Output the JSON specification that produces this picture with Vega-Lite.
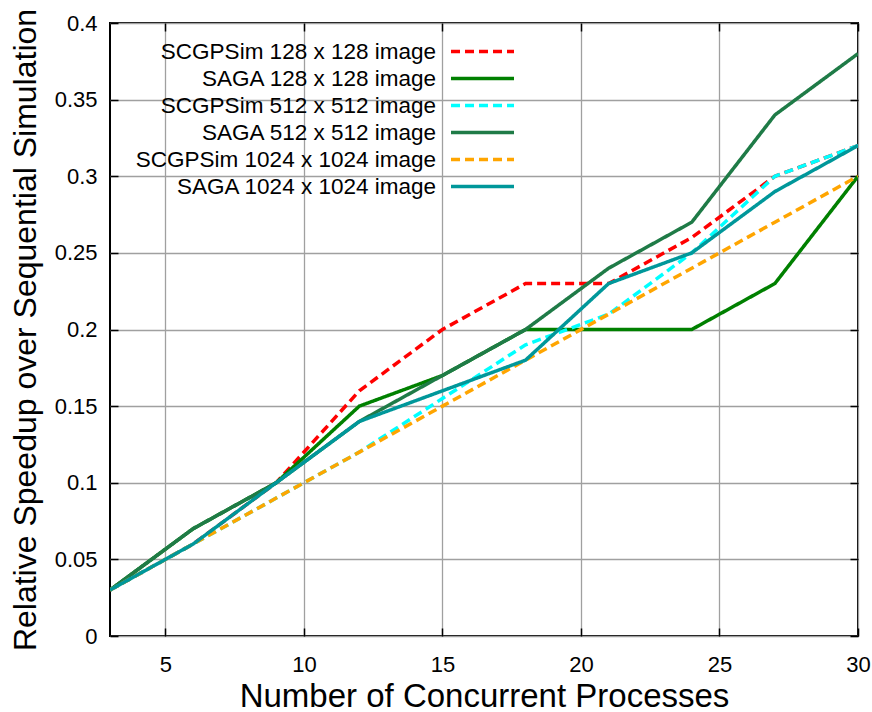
{
  "$schema": "https://vega.github.io/schema/vega-lite/v6.json",
  "autosize": "none",
  "padding": {"left": 110, "top": 23, "right": 14, "bottom": 76},
  "width": 748,
  "height": 613,
  "background": "white",
  "config": {
    "font": "Liberation Sans",
    "view": {"stroke": "black", "strokeWidth": 2},
    "axis": {
      "labelFont": "Liberation Sans",
      "titleFont": "Liberation Sans",
      "labelFontSize": 22,
      "titleFontSize": 32,
      "labelColor": "black",
      "titleColor": "black",
      "titleFontWeight": "normal",
      "domain": false,
      "gridColor": "#a0a0a0",
      "gridWidth": 1.3,
      "gridOpacity": 1,
      "tickColor": "black",
      "tickWidth": 1.5
    }
  },
  "data": {
    "values": [
      {"series": "SCGPSim 128 x 128 image", "x": 3, "y": 0.03},
      {"series": "SCGPSim 128 x 128 image", "x": 6, "y": 0.06},
      {"series": "SCGPSim 128 x 128 image", "x": 9, "y": 0.1},
      {"series": "SCGPSim 128 x 128 image", "x": 12, "y": 0.16},
      {"series": "SCGPSim 128 x 128 image", "x": 15, "y": 0.2},
      {"series": "SCGPSim 128 x 128 image", "x": 18, "y": 0.23},
      {"series": "SCGPSim 128 x 128 image", "x": 21, "y": 0.23},
      {"series": "SCGPSim 128 x 128 image", "x": 24, "y": 0.26},
      {"series": "SCGPSim 128 x 128 image", "x": 27, "y": 0.3},
      {"series": "SCGPSim 128 x 128 image", "x": 30, "y": 0.32},
      {"series": "SAGA 128 x 128 image", "x": 3, "y": 0.03},
      {"series": "SAGA 128 x 128 image", "x": 6, "y": 0.07},
      {"series": "SAGA 128 x 128 image", "x": 9, "y": 0.1},
      {"series": "SAGA 128 x 128 image", "x": 12, "y": 0.15},
      {"series": "SAGA 128 x 128 image", "x": 15, "y": 0.17},
      {"series": "SAGA 128 x 128 image", "x": 18, "y": 0.2},
      {"series": "SAGA 128 x 128 image", "x": 21, "y": 0.2},
      {"series": "SAGA 128 x 128 image", "x": 24, "y": 0.2},
      {"series": "SAGA 128 x 128 image", "x": 27, "y": 0.23},
      {"series": "SAGA 128 x 128 image", "x": 30, "y": 0.3},
      {"series": "SCGPSim 512 x 512 image", "x": 3, "y": 0.03},
      {"series": "SCGPSim 512 x 512 image", "x": 6, "y": 0.06},
      {"series": "SCGPSim 512 x 512 image", "x": 9, "y": 0.09},
      {"series": "SCGPSim 512 x 512 image", "x": 12, "y": 0.12},
      {"series": "SCGPSim 512 x 512 image", "x": 15, "y": 0.155},
      {"series": "SCGPSim 512 x 512 image", "x": 18, "y": 0.19},
      {"series": "SCGPSim 512 x 512 image", "x": 21, "y": 0.21},
      {"series": "SCGPSim 512 x 512 image", "x": 24, "y": 0.25},
      {"series": "SCGPSim 512 x 512 image", "x": 27, "y": 0.3},
      {"series": "SCGPSim 512 x 512 image", "x": 30, "y": 0.32},
      {"series": "SAGA 512 x 512 image", "x": 3, "y": 0.03},
      {"series": "SAGA 512 x 512 image", "x": 6, "y": 0.07},
      {"series": "SAGA 512 x 512 image", "x": 9, "y": 0.1},
      {"series": "SAGA 512 x 512 image", "x": 12, "y": 0.14},
      {"series": "SAGA 512 x 512 image", "x": 15, "y": 0.17},
      {"series": "SAGA 512 x 512 image", "x": 18, "y": 0.2},
      {"series": "SAGA 512 x 512 image", "x": 21, "y": 0.24},
      {"series": "SAGA 512 x 512 image", "x": 24, "y": 0.27},
      {"series": "SAGA 512 x 512 image", "x": 27, "y": 0.34},
      {"series": "SAGA 512 x 512 image", "x": 30, "y": 0.38},
      {"series": "SCGPSim 1024 x 1024 image", "x": 3, "y": 0.03},
      {"series": "SCGPSim 1024 x 1024 image", "x": 6, "y": 0.06},
      {"series": "SCGPSim 1024 x 1024 image", "x": 9, "y": 0.09},
      {"series": "SCGPSim 1024 x 1024 image", "x": 12, "y": 0.12},
      {"series": "SCGPSim 1024 x 1024 image", "x": 15, "y": 0.15},
      {"series": "SCGPSim 1024 x 1024 image", "x": 18, "y": 0.18},
      {"series": "SCGPSim 1024 x 1024 image", "x": 21, "y": 0.21},
      {"series": "SCGPSim 1024 x 1024 image", "x": 24, "y": 0.24},
      {"series": "SCGPSim 1024 x 1024 image", "x": 27, "y": 0.27},
      {"series": "SCGPSim 1024 x 1024 image", "x": 30, "y": 0.3},
      {"series": "SAGA 1024 x 1024 image", "x": 3, "y": 0.03},
      {"series": "SAGA 1024 x 1024 image", "x": 6, "y": 0.06},
      {"series": "SAGA 1024 x 1024 image", "x": 9, "y": 0.1},
      {"series": "SAGA 1024 x 1024 image", "x": 12, "y": 0.14},
      {"series": "SAGA 1024 x 1024 image", "x": 15, "y": 0.16},
      {"series": "SAGA 1024 x 1024 image", "x": 18, "y": 0.18},
      {"series": "SAGA 1024 x 1024 image", "x": 21, "y": 0.23},
      {"series": "SAGA 1024 x 1024 image", "x": 24, "y": 0.25},
      {"series": "SAGA 1024 x 1024 image", "x": 27, "y": 0.29},
      {"series": "SAGA 1024 x 1024 image", "x": 30, "y": 0.32}
    ]
  },
  "layer": [
    {
      "mark": {"type": "line", "strokeWidth": 3.5, "clip": true},
      "encoding": {
        "x": {
          "field": "x", "type": "quantitative",
          "scale": {"domain": [3, 30], "nice": false, "zero": false},
          "axis": {"title": "Number of Concurrent Processes", "values": [5, 10, 15, 20, 25, 30], "tickSize": -8, "labelPadding": 26, "titlePadding": 5, "titleFontSize": 33, "labelFlush": false, "orient": "bottom"}
        },
        "y": {
          "field": "y", "type": "quantitative",
          "scale": {"domain": [0, 0.4], "nice": false},
          "axis": {"title": "Relative Speedup over Sequential Simulation", "values": [0, 0.05, 0.1, 0.15, 0.2, 0.25, 0.3, 0.35, 0.4], "format": ".2~f", "tickSize": -8, "labelPadding": 21, "titlePadding": 12, "orient": "left"}
        },
        "color": {
          "field": "series", "type": "nominal",
          "scale": {
            "domain": ["SCGPSim 128 x 128 image", "SAGA 128 x 128 image", "SCGPSim 512 x 512 image", "SAGA 512 x 512 image", "SCGPSim 1024 x 1024 image", "SAGA 1024 x 1024 image"],
            "range": ["#ff0000", "#008000", "#00ffff", "#1f7b47", "#ffa500", "#00979a"]
          },
          "legend": {
            "title": null,
            "orient": "none",
            "legendX": 360,
            "legendY": 16,
            "padding": 0,
            "symbolType": "M-3,0H3",
            "symbolSize": 441,
            "symbolStrokeWidth": 3.5,
            "labelAlign": "right",
            "labelOffset": -59,
            "labelFont": "Liberation Sans",
            "labelFontSize": 22.5,
            "labelColor": "black",
            "labelLimit": 0,
            "rowPadding": 3,
            "fillColor": null
          }
        },
        "strokeDash": {
          "field": "series", "type": "nominal",
          "scale": {
            "domain": ["SCGPSim 128 x 128 image", "SAGA 128 x 128 image", "SCGPSim 512 x 512 image", "SAGA 512 x 512 image", "SCGPSim 1024 x 1024 image", "SAGA 1024 x 1024 image"],
            "range": [[9, 5], [1, 0], [9, 5], [1, 0], [9, 5], [1, 0]]
          },
          "legend": null
        }
      }
    },
    {
      "mark": {"type": "point", "opacity": 0},
      "encoding": {
        "x": {"field": "x", "type": "quantitative", "scale": {"domain": [3, 30], "nice": false, "zero": false}, "axis": {"orient": "top", "title": null, "labels": false, "grid": false, "values": [5, 10, 15, 20, 25, 30], "tickSize": -8}},
        "y": {"field": "y", "type": "quantitative", "scale": {"domain": [0, 0.4], "nice": false}, "axis": {"orient": "right", "title": null, "labels": false, "grid": false, "values": [0, 0.05, 0.1, 0.15, 0.2, 0.25, 0.3, 0.35, 0.4], "tickSize": -8}}
      }
    }
  ],
  "resolve": {"axis": {"x": "independent", "y": "independent"}}
}
